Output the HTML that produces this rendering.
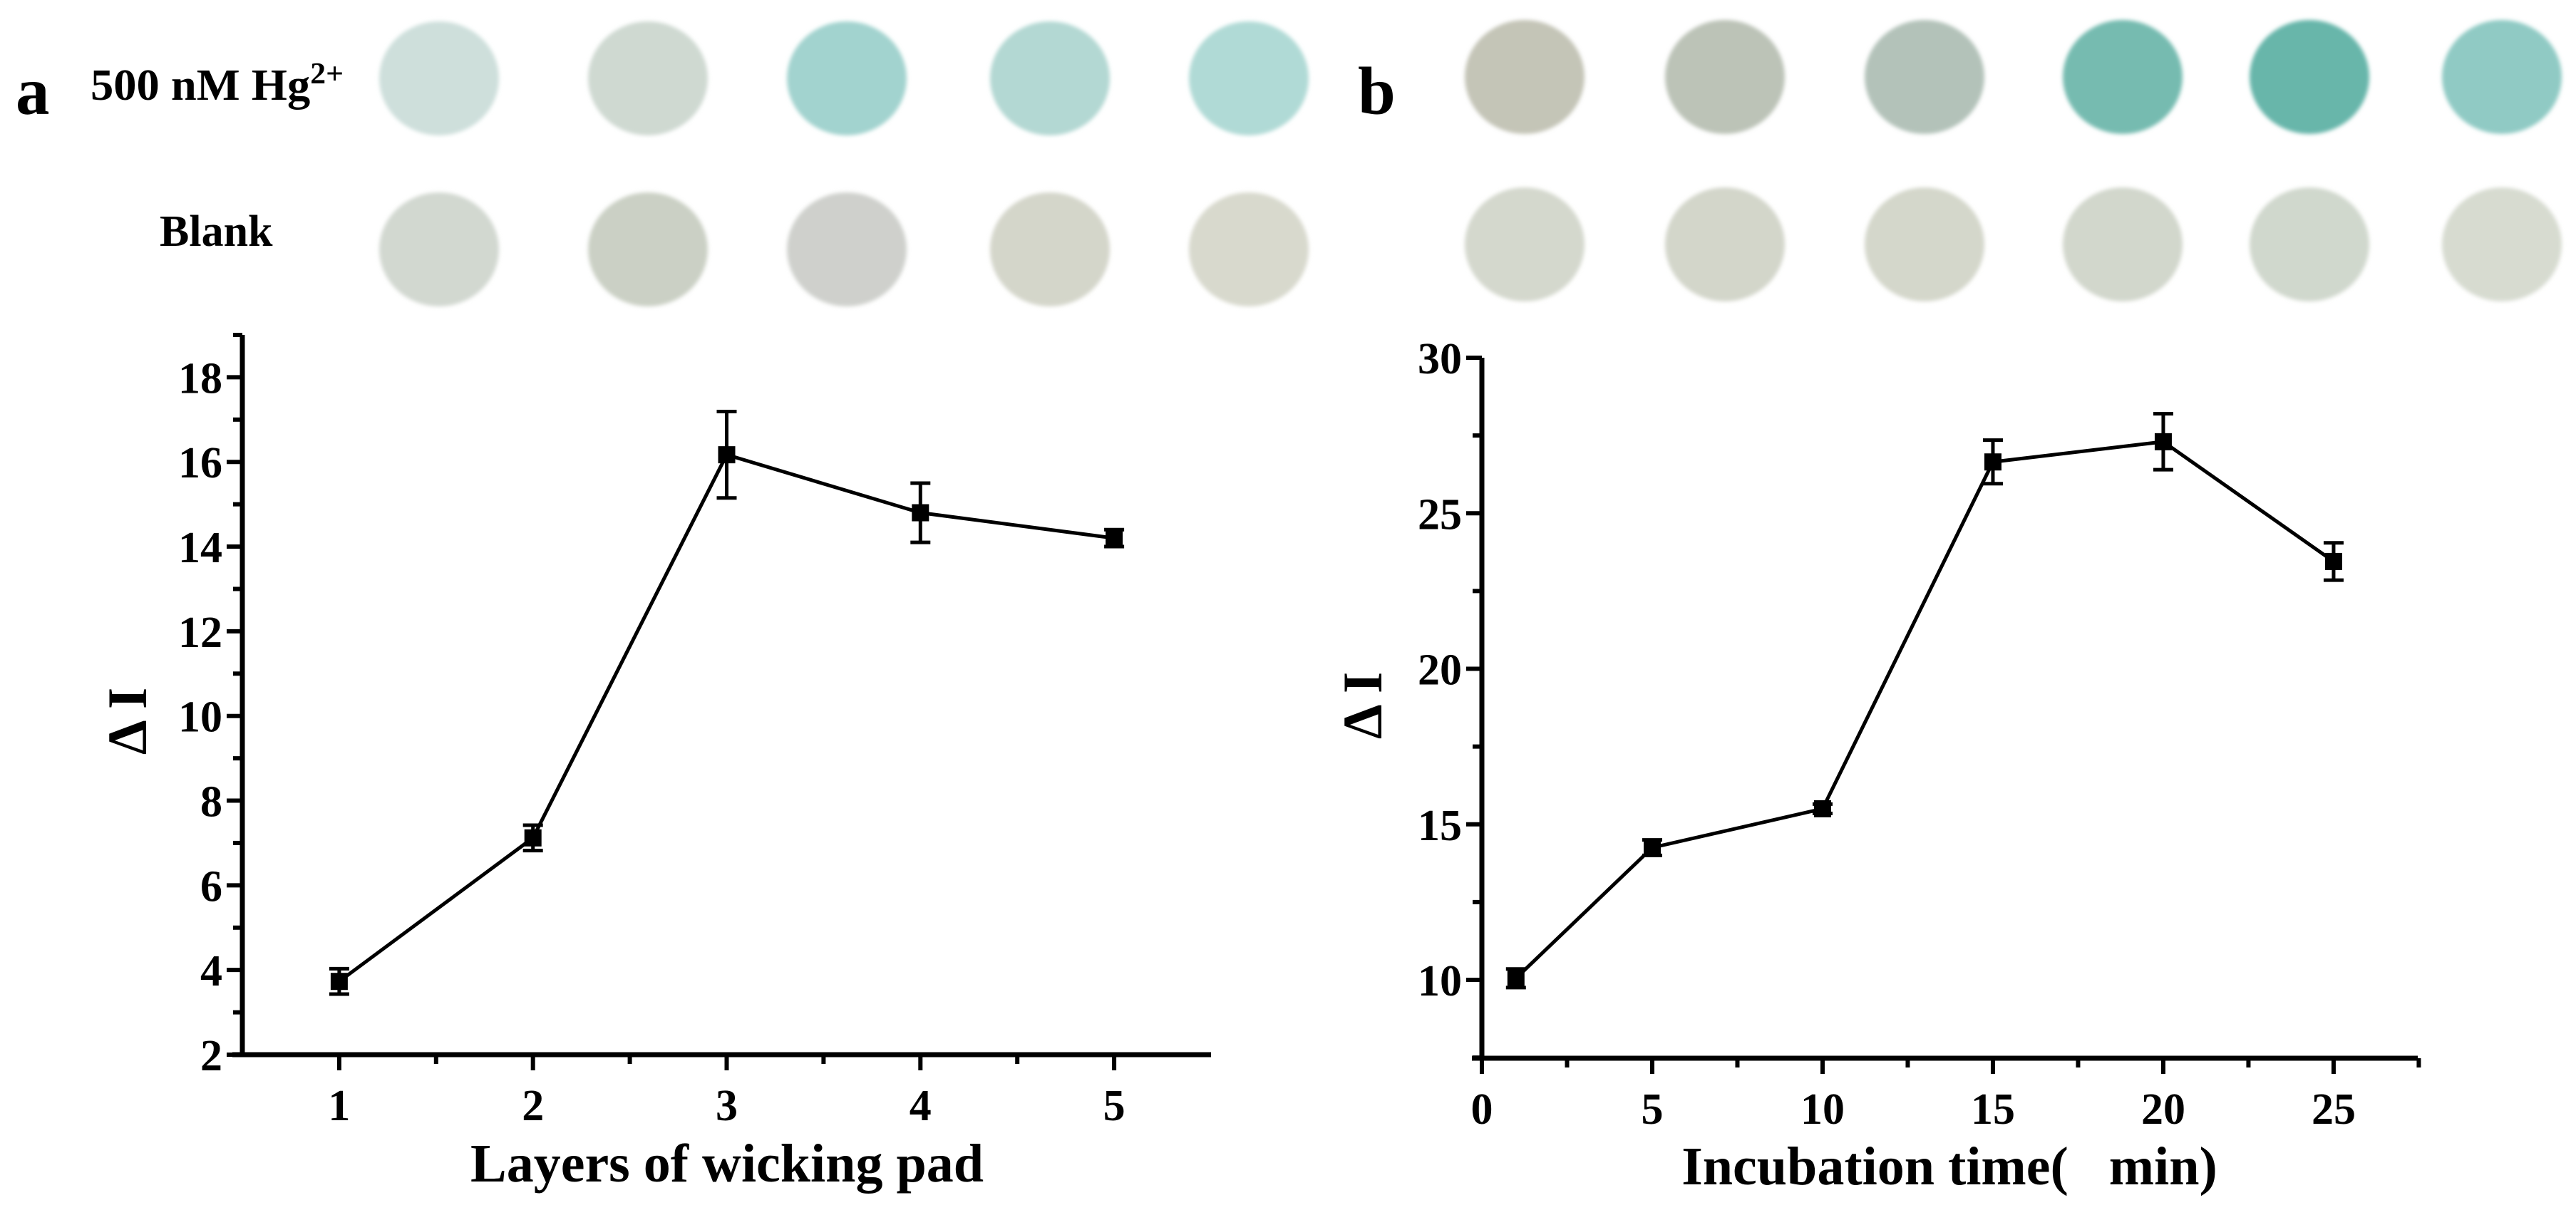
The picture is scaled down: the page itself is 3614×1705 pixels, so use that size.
<!DOCTYPE html>
<html><head><meta charset="utf-8"><style>
html,body{margin:0;padding:0;background:#fff;}
svg{display:block;font-family:"Liberation Serif",serif;font-weight:bold;}
</style></head><body>
<svg id="fig" width="3614" height="1705" viewBox="0 0 3614 1705" xmlns="http://www.w3.org/2000/svg">
<rect width="3614" height="1705" fill="#fff"/>
<defs><filter id="blur" x="-20%" y="-20%" width="140%" height="140%"><feGaussianBlur stdDeviation="3"/></filter></defs>
<text x="22" y="160" font-size="95">a</text>
<text x="127" y="140" font-size="62" textLength="355" lengthAdjust="spacingAndGlyphs">500 nM Hg<tspan baseline-shift="super" font-size="42">2+</tspan></text>
<text x="224" y="345" font-size="62">Blank</text>
<text x="1905" y="160" font-size="95">b</text>
<g id="spots"></g>
<g id="chartA"></g>
<g id="chartB"></g>
<text transform="translate(205,1012) rotate(-90)" text-anchor="middle" font-size="78">Δ I</text>
<text x="1020" y="1658" text-anchor="middle" font-size="76">Layers of wicking pad</text>
<text transform="translate(1938,990) rotate(-90)" text-anchor="middle" font-size="78">Δ I</text>
<text x="2735" y="1662" text-anchor="middle" font-size="76">Incubation time(&#160;&#160;&#160;min)</text>
</svg>
<script>
// Panel a data
const layersX = [1, 2, 3, 4, 5];
const layersY = [3.73, 7.12, 16.17, 14.8, 14.2];
const layersErr = [0.3, 0.3, 1.02, 0.7, 0.2];
const layersXTicks = ["1", "2", "3", "4", "5"];
const layersYTicks = ["2", "4", "6", "8", "10", "12", "14", "16", "18"];
// Panel b data
const timeX = [1, 5, 10, 15, 20, 25];
const timeY = [10.05, 14.25, 15.5, 26.65, 27.3, 23.45];
const timeErr = [0.3, 0.25, 0.15, 0.7, 0.9, 0.6];
const timeXTicks = ["0", "5", "10", "15", "20", "25"];
const timeYTicks = ["10", "15", "20", "25", "30"];
// spot colours
const spotColorsA1 = ["#cedfdb", "#cfd9d1", "#a2d3cf", "#b3d8d3", "#b0dad6"];
const spotColorsA2 = ["#d2d8d0", "#cbd0c5", "#cfd0cc", "#d4d6ca", "#d8d9cd"];
const spotColorsB1 = ["#c4c5b7", "#bcc3b7", "#b3c2b9", "#76bbb0", "#68b6aa", "#90cac4"];
const spotColorsB2 = ["#d4d8cd", "#d3d6ca", "#d4d7cb", "#d2d7cc", "#d0d8cd", "#d7dbd0"];

const NS = "http://www.w3.org/2000/svg";
function mk(tag, attrs, parent) {
  const e = document.createElementNS(NS, tag);
  for (const k in attrs) e.setAttribute(k, attrs[k]);
  parent.appendChild(e);
  return e;
}

const spots = document.getElementById('spots');
function spotRow(colors, xs, cy) {
  colors.forEach((c, i) => {
    const s = mk('ellipse', {cx: xs[i], cy: cy, rx: 84, ry: 80, fill: c, filter: 'url(#blur)'}, spots);
    
    
  });
}
const spotXA = [616, 909, 1188, 1473, 1752];
const spotXB = [2139, 2420, 2700, 2978, 3240, 3510];
spotRow(spotColorsA1, spotXA, 110);
spotRow(spotColorsA2, spotXA, 350);
spotRow(spotColorsB1, spotXB, 108);
spotRow(spotColorsB2, spotXB, 343);

function drawChart(g, cfg) {
  const sx = v => cfg.x0 + (v - cfg.xmin) / (cfg.xmax - cfg.xmin) * (cfg.x1 - cfg.x0);
  const sy = v => cfg.y0 - (v - cfg.ymin) / (cfg.ymax - cfg.ymin) * (cfg.y0 - cfg.y1);
  const sw = 7;
  const ax = mk('line', {x1: cfg.x0, y1: cfg.y0, x2: cfg.x0, y2: cfg.y1, stroke: '#000', 'stroke-width': sw}, g);
  
  
  const bx = mk('line', {x1: cfg.x0 - 14, y1: cfg.y0, x2: cfg.x1, y2: cfg.y0, stroke: '#000', 'stroke-width': sw}, g);
  
  
  cfg.yTicks.forEach(t => {
    const v = parseFloat(t), y = sy(v);
    mk('line', {x1: cfg.x0 - 22, y1: y, x2: cfg.x0, y2: y, stroke: '#000', 'stroke-width': 6}, g);
    const tx = mk('text', {x: cfg.x0 - 28, y: y + 22, 'text-anchor': 'end', 'font-size': cfg.fs}, g);
    tx.textContent = t;
    
    
    const mv = v + cfg.yStep / 2;
    if (mv < cfg.ymax + 0.01) mk('line', {x1: cfg.x0 - 13, y1: sy(mv), x2: cfg.x0, y2: sy(mv), stroke: '#000', 'stroke-width': 6}, g);
  });
  if (cfg.yMinorBelow) mk('line', {x1: cfg.x0 - 13, y1: sy(cfg.yMinorBelow), x2: cfg.x0, y2: sy(cfg.yMinorBelow), stroke: '#000', 'stroke-width': 6}, g);
  cfg.xTicks.forEach(t => {
    const v = parseFloat(t), x = sx(v);
    mk('line', {x1: x, y1: cfg.y0, x2: x, y2: cfg.y0 + 22, stroke: '#000', 'stroke-width': 6}, g);
    const tx = mk('text', {x: x, y: cfg.y0 + 92, 'text-anchor': 'middle', 'font-size': cfg.fs}, g);
    tx.textContent = t;
    
    
  });
  cfg.xMinor.forEach(v => {
    mk('line', {x1: sx(v), y1: cfg.y0, x2: sx(v), y2: cfg.y0 + 13, stroke: '#000', 'stroke-width': 6}, g);
  });
  const pts = cfg.xs.map((v, i) => sx(v) + ',' + sy(cfg.ys[i])).join(' ');
  const pl = mk('polyline', {points: pts, fill: 'none', stroke: '#000', 'stroke-width': 5}, g);
  
  
  cfg.xs.forEach((v, i) => {
    const x = sx(v), y = sy(cfg.ys[i]);
    const yt = sy(cfg.ys[i] + cfg.err[i]), yb = sy(cfg.ys[i] - cfg.err[i]);
    const eb = mk('path', {d: `M${x},${yt}V${yb}M${x - 14},${yt}H${x + 14}M${x - 14},${yb}H${x + 14}`, stroke: '#000', 'stroke-width': 5, fill: 'none'}, g);
    
    
    const m = mk('rect', {x: x - 12, y: y - 12, width: 24, height: 24, fill: '#000'}, g);
    
    
  });
}

drawChart(document.getElementById('chartA'), {
  x0: 340, x1: 1699, y0: 1480, y1: 470, xmin: 0.5, xmax: 5.5, ymin: 2, ymax: 19,
  xs: layersX, ys: layersY, err: layersErr, xTicks: layersXTicks, yTicks: layersYTicks,
  yStep: 2, xMinor: [1.5, 2.5, 3.5, 4.5], fs: 62
});
drawChart(document.getElementById('chartB'), {
  x0: 2079, x1: 3392, y0: 1485, y1: 502, xmin: 0, xmax: 27.47, ymin: 7.48, ymax: 30,
  xs: timeX, ys: timeY, err: timeErr, xTicks: timeXTicks, yTicks: timeYTicks,
  yStep: 5, yMinorBelow: 7.5, xMinor: [2.5, 7.5, 12.5, 17.5, 22.5, 27.5], fs: 62
});
</script>
</body></html>
